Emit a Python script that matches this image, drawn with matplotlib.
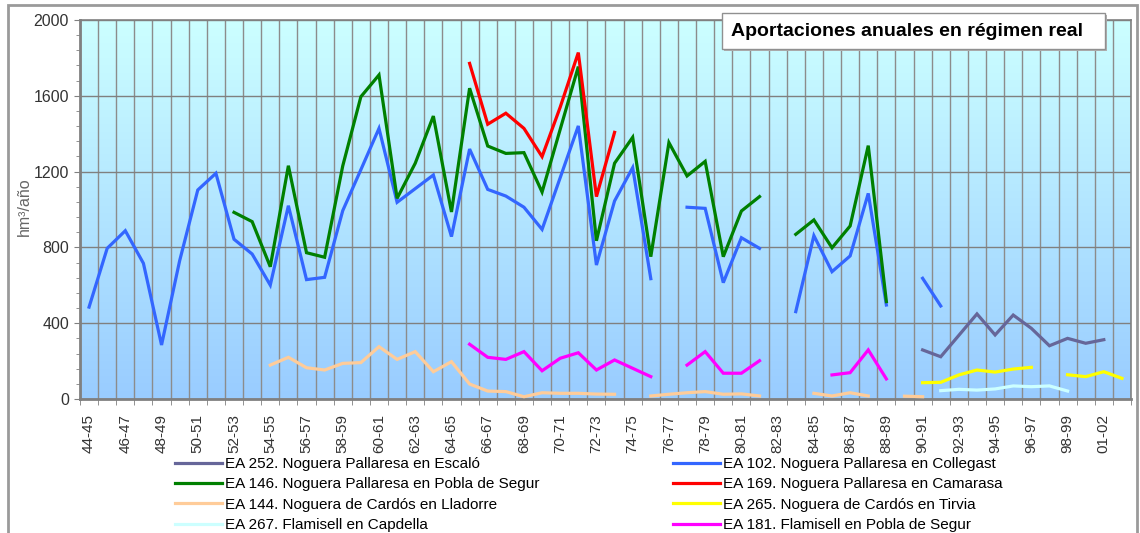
import numpy as np
import matplotlib
matplotlib.use("Agg")
import matplotlib.pyplot as plt
from matplotlib.patches import Rectangle

plt.rcParams['font.family'] = ['Liberation Sans', 'DejaVu Sans']

nan = np.nan

# hydrological years (one year missing in the source series)
years = ['44-45', '45-46', '46-47', '47-48', '48-49', '49-50', '50-51', '51-52',
         '52-53', '53-54', '54-55', '55-56', '56-57', '57-58', '58-59', '59-60',
         '60-61', '61-62', '62-63', '63-64', '64-65', '65-66', '66-67', '67-68',
         '68-69', '69-70', '70-71', '71-72', '72-73', '73-74', '74-75', '75-76',
         '76-77', '77-78', '78-79', '79-80', '80-81', '81-82', '82-83', '83-84',
         '84-85', '85-86', '86-87', '87-88', '88-89', '89-90', '90-91', '91-92',
         '92-93', '93-94', '94-95', '95-96', '96-97', '97-98', '98-99', '99-00',
         '01-02', '02-03']

# each series: first year index + values (hm3/año), nan = no data
ea252_start = 46
ea252 = [259, 223, 336, 449, 338, 443, 373, 281, 320, 294, 313]

ea102_start = 0
ea102 = [485, 795, 888, 716, 285, 730, 1103, 1191, 843, 765, 601, 1020, 630, 642,
         994, 1210, 1428, 1038, 1110, 1182, 857, 1319, 1106, 1071, 1012, 895, 1168,
         1441, 707, 1045, 1221, 635, nan, 1012, 1006, 614, 851, 795, nan, 461, 862,
         672, 755, 1085, 496, nan, 637, 491]

ea146_start = 8
ea146 = [985, 936, 698, 1231, 772, 748, 1230, 1595, 1710, 1059, 1244, 1493, 987,
         1640, 1335, 1296, 1300, 1092, 1423, 1754, 835, 1244, 1381, 751, 1353, 1177,
         1254, 751, 992, 1068, nan, 869, 945, 798, 913, 1337, 514]

ea169_start = 21
ea169 = [1771, 1450, 1508, 1428, 1279, 1540, 1828, 1068, 1407]

ea144_start = 10
ea144 = [179, 220, 165, 153, 188, 192, 276, 209, 250, 144, 197, 79, 42, 39, 12, 33,
         30, 30, 26, 25, nan, 16, 25, 33, 39, 25, 27, 16, nan, nan, 30, 16, 33, 16,
         nan, 15, 12]

ea265_start = 46
ea265 = [86, 88, 127, 153, 142, 158, 167, nan, 128, 118, 144, 109]

ea267_start = 47
ea267 = [44, 51, 47, 53, 69, 65, 69, 42]

ea181_start = 21
ea181 = [289, 220, 209, 250, 149, 215, 244, 153, 206, 162, 118, nan, 179, 250, 136,
         136, 202, nan, nan, nan, 127, 139, 259, 106]

series = [
    ('EA 102. Noguera Pallaresa en Collegast', ea102_start, ea102, '#3366FF'),
    ('EA 146. Noguera Pallaresa en Pobla de Segur', ea146_start, ea146, '#008000'),
    ('EA 169. Noguera Pallaresa en Camarasa', ea169_start, ea169, '#FF0000'),
    ('EA 144. Noguera de Cardós en Lladorre', ea144_start, ea144, '#FFCC99'),
    ('EA 181. Flamisell en Pobla de Segur', ea181_start, ea181, '#FF00FF'),
    ('EA 252. Noguera Pallaresa en Escaló', ea252_start, ea252, '#666699'),
    ('EA 265. Noguera de Cardós en Tirvia', ea265_start, ea265, '#FFFF00'),
    ('EA 267. Flamisell en Capdella', ea267_start, ea267, '#CCFFFF'),
]

W, H = 1140, 533
fig = plt.figure(figsize=(W / 100, H / 100), dpi=100)

# outer chart frame
fig.patches.append(Rectangle((8 / W, -0.05), 1129 / W, 1.05 - 5 / H, transform=fig.transFigure,
                             facecolor='none', edgecolor='#9a9a9a', lw=2, zorder=0))

ax = fig.add_axes([80 / W, 1 - 399 / H, 1051 / W, 379 / H], zorder=2)
ax.set_xlim(-0.5, len(years) - 0.5)
ax.set_ylim(0, 2000)

# gradient plot background
grad = np.linspace(0, 1, 256).reshape(-1, 1)
top = np.array([0.80, 1.0, 1.0])
bot = np.array([0.60, 0.80, 1.0])
img = top * (1 - grad)[..., None] + bot * grad[..., None]
ax.imshow(img, extent=[-0.5, len(years) - 0.5, 0, 2000], aspect='auto', zorder=0,
          interpolation='bilinear')

lines = {}
for name, start, vals, col in series:
    x = np.arange(start, start + len(vals))
    l, = ax.plot(x, vals, color=col, lw=2.3, label=name, zorder=3, solid_joinstyle='miter')
    lines[name] = l

# axes styling
ax.set_yticks(np.arange(0, 2001, 400))
ax.set_yticks(np.arange(0, 2001, 80), minor=True)
ax.set_xticks(np.arange(0, len(years), 2))
ax.set_xticklabels(years[::2], rotation=90)
ax.set_xticks(np.arange(-0.5, len(years), 1), minor=True)
ax.tick_params(axis='x', which='major', length=0, pad=11, labelsize=11, labelcolor='#333333')
ax.tick_params(axis='x', which='minor', length=4, color='#808080', direction='out')
ax.tick_params(axis='y', which='major', length=4, color='#808080', pad=4,
               labelsize=11.5, labelcolor='#333333')
ax.tick_params(axis='y', which='minor', length=3, color='#808080')
ax.grid(True, axis='y', which='major', color='#808080', lw=1, zorder=1)
ax.grid(True, axis='x', which='minor', color='#8c8c8c', lw=1, zorder=1)
ax.set_axisbelow(True)
for s in ax.spines.values():
    s.set_color('#808080')
    s.set_linewidth(1.2)
ax.spines['left'].set_linewidth(2)
ax.spines['bottom'].set_linewidth(2)

fig.text(24 / W, 1 - 207 / H, 'hm³/año', rotation=90, ha='center', va='center',
         fontsize=11.5, color='#666666')

# title box
fig.patches.append(Rectangle((724 / W, 1 - 51 / H), 383 / W, 36 / H, transform=fig.transFigure,
                             facecolor='#b0b0b0', edgecolor='none', zorder=5))
fig.patches.append(Rectangle((722 / W, 1 - 49 / H), 383 / W, 36 / H, transform=fig.transFigure,
                             facecolor='white', edgecolor='#909090', lw=1, zorder=6))
fig.text(731 / W, 1 - 31 / H, 'Aportaciones anuales en régimen real', ha='left', va='center',
         fontsize=14, fontweight='bold', color='black', zorder=7)

# legend, two columns
left_names = ['EA 252. Noguera Pallaresa en Escaló', 'EA 146. Noguera Pallaresa en Pobla de Segur',
              'EA 144. Noguera de Cardós en Lladorre', 'EA 267. Flamisell en Capdella']
right_names = ['EA 102. Noguera Pallaresa en Collegast', 'EA 169. Noguera Pallaresa en Camarasa',
               'EA 265. Noguera de Cardós en Tirvia', 'EA 181. Flamisell en Pobla de Segur']
for names, x0 in [(left_names, 175), (right_names, 673)]:
    fig.legend([lines[n] for n in names], names, loc='upper left',
               bbox_to_anchor=(x0 / W, 1 - 457 / H), frameon=False, fontsize=11,
               handlelength=3.1, handletextpad=0.2, labelspacing=0.42, borderpad=0,
               borderaxespad=0)

fig.savefig('out.png', dpi=100)
